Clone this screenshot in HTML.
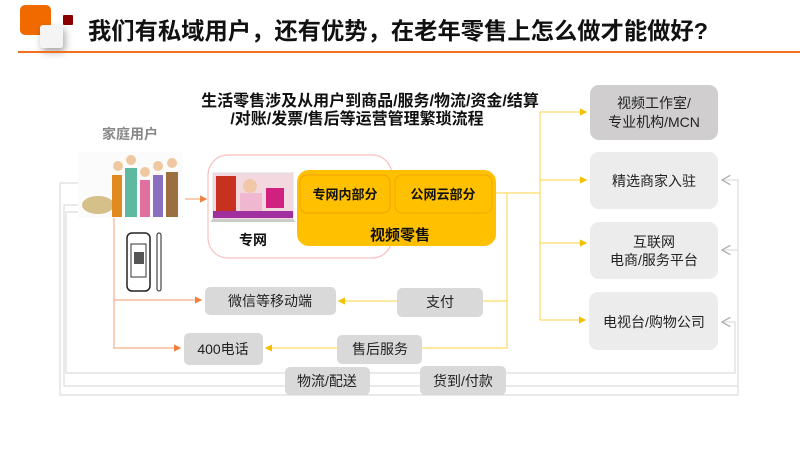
<!DOCTYPE html>
<html><head><meta charset="utf-8"><style>
html,body{margin:0;padding:0;background:#fff;}
svg{display:block;font-family:"Liberation Sans","Noto Sans CJK SC",sans-serif;}
</style></head><body>
<svg width="800" height="450" viewBox="0 0 800 450" xmlns="http://www.w3.org/2000/svg">
<defs>
<filter id="sh" x="-50%" y="-50%" width="200%" height="200%"><feDropShadow dx="2" dy="4" stdDeviation="4" flood-color="#000" flood-opacity="0.35"/></filter>
<marker id="ay" markerWidth="6" markerHeight="6" refX="5" refY="3" orient="auto"><path d="M0,0 L6,3 L0,6 z" fill="#f5c000"/></marker>
<marker id="ao" markerWidth="6" markerHeight="6" refX="5" refY="3" orient="auto"><path d="M0,0 L6,3 L0,6 z" fill="#f08040"/></marker>
<marker id="ag" markerWidth="8" markerHeight="8" refX="7" refY="4" orient="auto"><path d="M0,0 L7,4 L0,8" fill="none" stroke="#aaa"/></marker>
</defs>
<rect x="20" y="5" width="31" height="30" rx="5" fill="#f06a00"/>
<rect x="40" y="25" width="23" height="23" rx="3" fill="#f4f4f4" filter="url(#sh)"/>
<rect x="63" y="15" width="10" height="10" rx="1" fill="#8b0000"/>
<line x1="18" y1="52" x2="800" y2="52" stroke="#f07020" stroke-width="2"/>
<text x="88" y="39" font-size="23.3" font-weight="bold" fill="#111">我们有私域用户，还有优势，在老年零售上怎么做才能做好?</text>
<text x="370" y="106" font-size="16" font-weight="bold" text-anchor="middle" fill="#111">生活零售涉及从用户到商品/服务/物流/资金/结算</text>
<text x="357" y="124" font-size="16" font-weight="bold" text-anchor="middle" fill="#111">/对账/发票/售后等运营管理繁琐流程</text>
<text x="130" y="139" font-size="14" font-weight="bold" text-anchor="middle" fill="#888">家庭用户</text>
<rect x="78" y="152" width="105" height="66" fill="#fbfbfb"/>
<ellipse cx="98" cy="205" rx="16" ry="9" fill="#d6c08a"/>
<rect x="112" y="175" width="10" height="42" fill="#e08a20"/>
<rect x="125" y="168" width="12" height="49" fill="#5fb8a0"/>
<rect x="140" y="180" width="10" height="37" fill="#e070a0"/>
<rect x="153" y="175" width="10" height="42" fill="#8a70c0"/>
<rect x="166" y="172" width="12" height="45" fill="#9a7040"/>
<circle cx="118" cy="166" r="5" fill="#f0c8a0"/><circle cx="131" cy="160" r="5" fill="#f0c8a0"/><circle cx="145" cy="172" r="5" fill="#f0c8a0"/><circle cx="158" cy="166" r="5" fill="#f0c8a0"/><circle cx="172" cy="163" r="5" fill="#f0c8a0"/>
<rect x="127" y="233" width="23" height="58" rx="5" fill="none" stroke="#222" stroke-width="1.5"/>
<rect x="131" y="244" width="15" height="33" fill="none" stroke="#333"/>
<rect x="134" y="252" width="10" height="12" fill="#555"/>
<rect x="157" y="233" width="4" height="58" rx="2" fill="none" stroke="#222"/>
<g fill="none" stroke="#ddd" stroke-width="1.2">
<polyline points="78,183 60,183 60,395 738,395 738,180 722,180" marker-end="url(#ag)"/>
<polyline points="738,250 722,250" marker-end="url(#ag)"/>
<polyline points="78,205 64,205 64,386 738,386"/>
<polyline points="78,212 66,212 66,373 735,373 735,322 722,322" marker-end="url(#ag)"/>
</g>
<g fill="none" stroke="#f7b088" stroke-width="1.2">
<polyline points="185,199 206,199" marker-end="url(#ao)"/>
<polyline points="114,218 114,348 180,348" marker-end="url(#ao)"/>
<polyline points="114,300 201,300" marker-end="url(#ao)"/>
</g>
<g fill="none" stroke="#ffd966" stroke-width="1.2">
<polyline points="496,193 540,193"/>
<polyline points="540,112 540,320"/>
<polyline points="540,112 586,112" marker-end="url(#ay)"/>
<polyline points="540,180 586,180" marker-end="url(#ay)"/>
<polyline points="540,243 586,243" marker-end="url(#ay)"/>
<polyline points="540,320 585,320" marker-end="url(#ay)"/>
<polyline points="507,193 507,348 422,348"/>
<polyline points="507,301 483,301"/>
<polyline points="397,301 339,301" marker-end="url(#ay)"/>
<polyline points="337,348 266,348" marker-end="url(#ay)"/>
</g>
<rect x="208" y="155" width="184" height="103" rx="20" fill="#fff" stroke="#f8c0c0" stroke-width="1.2"/>
<rect x="213" y="173" width="80" height="47" fill="#f4d8e0" stroke="#ddd"/>
<rect x="216" y="176" width="20" height="36" fill="#c83020"/>
<circle cx="250" cy="186" r="7" fill="#f0c8a8"/>
<rect x="240" y="193" width="22" height="20" fill="#f0b8d0"/>
<rect x="266" y="188" width="18" height="20" fill="#d02080"/>
<rect x="213" y="211" width="80" height="7" fill="#a030a0"/>
<polygon points="210,222 296,222 293,219 213,219" fill="#ccc"/>
<text x="253" y="245" font-size="14" font-weight="bold" text-anchor="middle" fill="#111">专网</text>
<rect x="297" y="170" width="199" height="76" rx="12" fill="#ffc000"/>
<rect x="300" y="175" width="90" height="38" rx="7" fill="none" stroke="#f5a000"/>
<rect x="395" y="175" width="97" height="38" rx="7" fill="none" stroke="#f0a800"/>
<text x="345" y="199" font-size="13" font-weight="bold" text-anchor="middle" fill="#111">专网内部分</text>
<text x="443" y="199" font-size="13" font-weight="bold" text-anchor="middle" fill="#111">公网云部分</text>
<text x="400" y="240" font-size="15" font-weight="bold" text-anchor="middle" fill="#111">视频零售</text>
<g font-size="14" text-anchor="middle" fill="#222">
<rect x="590" y="85" width="128" height="55" rx="9" fill="#d0cece"/>
<text x="654" y="108">视频工作室/</text><text x="654" y="127">专业机构/MCN</text>
<rect x="590" y="152" width="128" height="57" rx="9" fill="#ececec"/>
<text x="654" y="186">精选商家入驻</text>
<rect x="590" y="222" width="128" height="57" rx="9" fill="#ececec"/>
<text x="654" y="247">互联网</text><text x="654" y="265">电商/服务平台</text>
<rect x="589" y="292" width="129" height="58" rx="9" fill="#ececec"/>
<text x="654" y="327">电视台/购物公司</text>
</g>
<g font-size="14" text-anchor="middle" fill="#222">
<rect x="205" y="287" width="131" height="28" rx="5" fill="#d9d9d9"/><text x="270" y="306">微信等移动端</text>
<rect x="397" y="288" width="86" height="29" rx="5" fill="#d9d9d9"/><text x="440" y="307">支付</text>
<rect x="184" y="333" width="79" height="32" rx="5" fill="#d9d9d9"/><text x="223" y="354">400电话</text>
<rect x="337" y="335" width="85" height="29" rx="5" fill="#d9d9d9"/><text x="380" y="354">售后服务</text>
<rect x="285" y="367" width="85" height="28" rx="5" fill="#d9d9d9"/><text x="327" y="386">物流/配送</text>
<rect x="420" y="366" width="86" height="29" rx="5" fill="#d9d9d9"/><text x="463" y="386">货到/付款</text>
</g>
</svg>
</body></html>
